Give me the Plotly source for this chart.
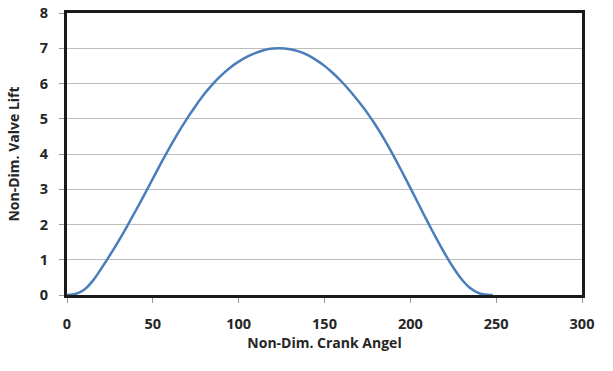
import plotly.graph_objects as go

crank_angle = [0, 5, 10, 15, 20, 25, 30, 35, 40, 45, 50, 55, 60, 65, 70, 75, 80, 85, 90, 95,
               100, 105, 110, 115, 120, 124, 130, 135, 140, 145, 150, 155, 160, 165, 170, 175,
               180, 185, 190, 195, 200, 205, 210, 215, 220, 225, 230, 235, 240, 245, 248]
valve_lift = [0.0, 0.03, 0.15, 0.4, 0.75, 1.13, 1.53, 1.95, 2.39, 2.84, 3.3, 3.76, 4.2, 4.62,
              5.01, 5.37, 5.7, 5.99, 6.24, 6.45, 6.62, 6.76, 6.87, 6.95, 6.99, 7.0, 6.97, 6.91,
              6.81, 6.67, 6.5, 6.29, 6.05, 5.78, 5.48, 5.16, 4.8, 4.4, 3.97, 3.51, 3.04, 2.56,
              2.08, 1.62, 1.18, 0.78, 0.44, 0.19, 0.05, 0.005, 0.0]

x_ticks = [0, 50, 100, 150, 200, 250, 300]
y_ticks = [0, 1, 2, 3, 4, 5, 6, 7, 8]

FONT = "Open Sans"

fig = go.Figure()
fig.add_trace(go.Scatter(
    x=crank_angle, y=valve_lift, mode="lines",
    line=dict(color="#4a7ebb", width=2.5, shape="spline", smoothing=0.8),
    showlegend=False, hoverinfo="skip",
))

fig.update_layout(
    width=613, height=371,
    margin=dict(l=67, r=31, t=13, b=76),
    paper_bgcolor="white", plot_bgcolor="white",
    font=dict(family=FONT, color="#262626", size=14),
)
fig.update_xaxes(
    range=[0, 300], tickvals=x_ticks, ticktext=[str(v) for v in x_ticks],
    showgrid=False, zeroline=False, automargin=False,
    showline=True, linecolor="#1a1a1a", linewidth=3, mirror=True,
    ticks="outside", ticklen=5, tickcolor="#9a9a9a", ticklabelstandoff=9,
    tickfont=dict(family=FONT, size=14.5, color="#262626", weight="bold"),
    title=dict(text="Non-Dim. Crank Angel", standoff=5,
               font=dict(family=FONT, size=14, color="#262626", weight="bold")),
)
fig.update_yaxes(
    range=[0, 8], tickvals=y_ticks, ticktext=[str(v) for v in y_ticks],
    showgrid=True, gridcolor="#bdbdbd", gridwidth=1, zeroline=False, automargin=False,
    showline=True, linecolor="#1a1a1a", linewidth=3, mirror=True,
    ticks="outside", ticklen=5, tickcolor="#9a9a9a", ticklabelstandoff=8,
    tickfont=dict(family=FONT, size=14.5, color="#262626", weight="bold"),
    title=dict(text="Non-Dim. Valve Lift", standoff=17,
               font=dict(family=FONT, size=14, color="#262626", weight="bold")),
)

fig.write_html("out.html", config={"displayModeBar": False},
               post_script="document.body.style.margin='0';")
